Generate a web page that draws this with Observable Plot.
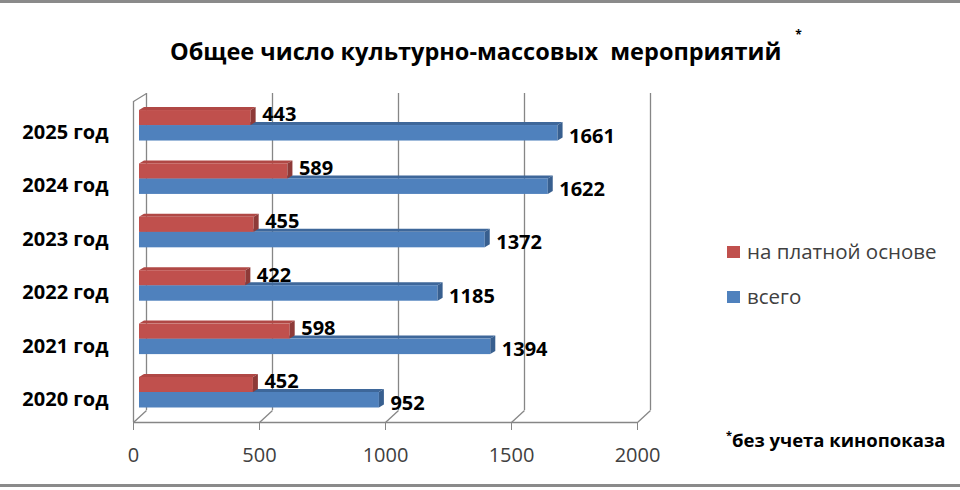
<!DOCTYPE html>
<html><head><meta charset="utf-8">
<script src="https://cdn.jsdelivr.net/npm/d3@7"></script>
<script src="https://cdn.jsdelivr.net/npm/@observablehq/plot@0.6"></script>
<style>
body{margin:0;background:#fff;}
#wrap{position:relative;width:960px;height:490px;overflow:hidden;font-family:"Open Sans",sans-serif;background:#fff;}
#wrap svg{position:absolute;left:0;top:0;}
.abs{position:absolute;white-space:nowrap;}
#title{left:170px;top:35px;font-weight:700;font-size:23.5px;color:#000;}
#title sup{font-size:12px;vertical-align:top;position:relative;top:-9px;margin-left:14px;}
.leg{font-size:20.5px;color:#404040;left:727px;}
.leg i{display:inline-block;width:13px;height:12px;margin-right:7px;vertical-align:middle;position:relative;top:-2px;}
#foot{left:726px;top:427px;font-size:18.5px;font-weight:700;color:#000;}
#foot span{font-size:11px;vertical-align:top;}
.bord{position:absolute;left:0;width:960px;height:3px;background:#8a8a8a;}
</style></head>
<body>
<div id="wrap">
<div class="bord" style="top:0"></div>
<div class="bord" style="top:484px"></div>
<div id="chart"></div>
<div id="title" class="abs">Общее число культурно-массовых&nbsp; мероприятий<sup>*</sup></div>
<div id="leg0" class="abs leg" style="top:237px"></div>
<div id="leg1" class="abs leg" style="top:282px"></div>
<div id="foot" class="abs"><span>*</span>без учета кинопоказа</div>
</div>
<script>
const years = ["2020 год","2021 год","2022 год","2023 год","2024 год","2025 год"];
const paid = [452, 598, 422, 455, 589, 443];
const total = [952, 1394, 1185, 1372, 1622, 1661];
const xTicks = [0, 500, 1000, 1500, 2000];
const seriesNames = ["на платной основе", "всего"];
const colors = ["#C0504D", "#4F81BD"];
const sideColors = ["#8E3A38", "#385F8F"];
const topColors = ["#B04845", "#3E679A"];

const rows = years.map((y, i) => ({i, year: y, paid: paid[i], total: total[i]}));

// layout constants (pixels)
const W = 960, H = 490, mL = 139, mR = 317, mT = 93, mB = 68;
const yMin = -0.562, yMax = 5.6;
const pxX = (W - mL - mR) / 2000;           // px per unit of x
const pxY = (H - mT - mB) / (yMax - yMin);  // px per band index
const px2x = p => p / pxX, px2y = p => p / pxY;
const yBack = yMin + px2y(12);
const redH = px2y(15), blueH = px2y(15.5);
const sx = px2x(5), sy = px2y(3);   // 3D depth offset

// bar boxes: series 0 = paid (upper), 1 = total (lower)
const boxes = [];
rows.forEach(d => {
  boxes.push({k: 1, key: "t" + d.i, v: d.total, lo: d.i - blueH, hi: d.i});
  boxes.push({k: 0, key: "p" + d.i, v: d.paid, lo: d.i, hi: d.i + redH});
});
// side faces (parallelogram at bar end) and top faces
const sidePts = boxes.flatMap(b => [
  {key: b.key, k: b.k, x: b.v, y1: b.lo, y2: b.hi},
  {key: b.key, k: b.k, x: b.v + sx, y1: b.lo + sy, y2: b.hi + sy}
]);
const topPts = boxes.flatMap(b => [
  {key: b.key, k: b.k, y: b.hi, x1: 0, x2: b.v},
  {key: b.key, k: b.k, y: b.hi + sy, x1: sx, x2: b.v + sx}
]);
const layer = k => [
  Plot.areaX(topPts.filter(p => p.k === k), {y: "y", x1: "x1", x2: "x2", z: "key", fill: topColors[k]}),
  Plot.rectX(boxes.filter(b => b.k === k), {x1: 0, x2: "v", y1: "lo", y2: "hi", fill: colors[k]}),
  Plot.areaY(sidePts.filter(p => p.k === k), {x: "x", y1: "y1", y2: "y2", z: "key", fill: sideColors[k]})
];

const gridC = "#868686";

const plot = Plot.plot({
  width: W, height: H,
  marginLeft: mL, marginRight: mR, marginTop: mT, marginBottom: mB,
  style: {fontFamily: "Open Sans", background: "transparent", overflow: "visible"},
  x: {domain: [0, 2000], axis: null},
  y: {domain: [yMin, yMax], axis: null},
  marks: [
    // back wall gridlines
    Plot.ruleX(xTicks, {x: d => d, y1: yBack, y2: yMax, dx: 7, stroke: gridC, strokeWidth: 1.3}),
    // floor slants
    Plot.link(xTicks, {x1: d => d + px2x(7), x2: d => d - px2x(6), y1: yBack, y2: yMin, stroke: gridC, strokeWidth: 1.3}),
    // front floor edge
    Plot.ruleY([yMin], {x1: 0 - px2x(6), x2: 2000 - px2x(6), stroke: gridC, strokeWidth: 1.3}),
    // left wall
    Plot.ruleX([0], {y1: yMin, y2: yMax - px2y(8), dx: -6, stroke: gridC, strokeWidth: 1.3}),
    Plot.link([0], {x1: d => d - px2x(6), x2: d => d + px2x(7), y1: yMax - px2y(8), y2: yMax, stroke: gridC, strokeWidth: 1.3}),
    // 3D bars: lower (всего) first, then upper (на платной основе)
    ...layer(1),
    ...layer(0),
    // value labels
    Plot.text(rows, {x: d => d.paid, y: d => d.i + redH / 2, text: d => String(d.paid), dx: 11, dy: -3, textAnchor: "start", fontSize: 20, fontWeight: "bold", fill: "#000"}),
    Plot.text(rows, {x: d => d.total, y: d => d.i - blueH / 2, text: d => String(d.total), dx: 11, dy: 3, textAnchor: "start", fontSize: 20, fontWeight: "bold", fill: "#000"}),
    // axes
    Plot.axisX(xTicks, {tickSize: 8, tickPadding: 17, dx: -6, fontSize: 20, stroke: gridC, fill: "#404040", tickFormat: d => String(d)}),
    Plot.axisY(d3.range(years.length), {tickSize: 0, tickPadding: 31, dy: 7, fontSize: 20, fontWeight: "bold", fill: "#000", tickFormat: i => years[i]})
  ]
});
document.getElementById("chart").appendChild(plot);

seriesNames.forEach((n, k) => {
  const el = document.getElementById("leg" + k);
  el.innerHTML = `<i style="background:${colors[k]}"></i>${n}`;
});
</script>
</body></html>
